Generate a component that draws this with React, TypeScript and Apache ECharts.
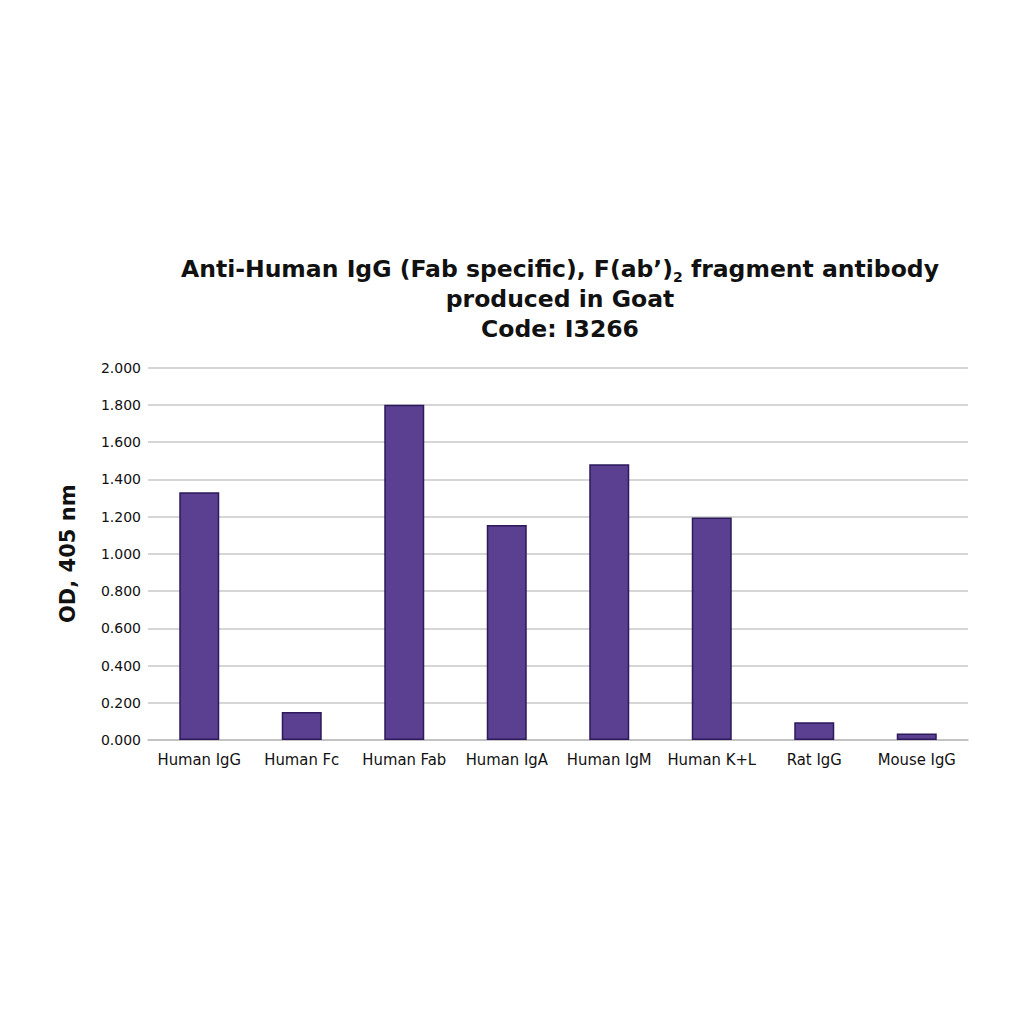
import React, { useEffect, useRef } from "react";
import * as echarts from "echarts";

const categories = ["Human IgG", "Human Fc", "Human Fab", "Human IgA", "Human IgM", "Human K+L", "Rat IgG", "Mouse IgG"];
const odValues = [1.33, 0.15, 1.8, 1.155, 1.48, 1.195, 0.095, 0.035];
const yTicks = { min: 0, max: 2, interval: 0.2 };
const titleLines = ["Anti-Human IgG (Fab specific), F(ab’){sub|2} fragment antibody", "produced in Goat", "Code: I3266"];
const yAxisTitle = "OD, 405 nm";

export default function App() {
  const ref = useRef<HTMLDivElement>(null);
  useEffect(() => {
    if (!ref.current) return;
    const chart = echarts.init(ref.current, null, { renderer: "svg" });
    chart.setOption({
      animation: false,
      backgroundColor: "#ffffff",
      graphic: [
        {
          type: "text",
          x: 560,
          y: 254,
          style: {
            text: titleLines.join("\n"),
            align: "center",
            verticalAlign: "top",
            font: "bold 23.5px 'DejaVu Sans'",
            fill: "#111",
            lineHeight: 30,
            rich: {
              sub: { fontSize: 14, fontWeight: "bold", fontFamily: "DejaVu Sans", verticalAlign: "bottom", padding: [12, 0, 0, 0], lineHeight: 30 },
            },
          },
        },
      ],
      grid: { left: 148, right: 56, top: 367.5, bottom: 284, containLabel: false },
      xAxis: {
        type: "category",
        data: categories,
        axisLine: { show: true, lineStyle: { color: "#bdbdbd", width: 1.5 } },
        axisTick: { show: false },
        axisLabel: { color: "#111", fontSize: 16.5, fontFamily: "DejaVu Sans Condensed", margin: 11, interval: 0 },
      },
      yAxis: {
        type: "value",
        min: yTicks.min,
        max: yTicks.max,
        interval: yTicks.interval,
        name: yAxisTitle,
        nameLocation: "middle",
        nameGap: 70,
        nameTextStyle: { fontSize: 21, fontWeight: "bold", fontFamily: "DejaVu Sans", color: "#111" },
        axisLine: { show: false },
        axisTick: { show: false },
        axisLabel: { color: "#111", fontSize: 14, fontFamily: "DejaVu Sans", margin: 7, formatter: (v: number) => v.toFixed(3) },
        splitLine: { lineStyle: { color: "#c8c8c8", width: 1.5 } },
      },
      series: [
        {
          type: "bar",
          data: odValues,
          barWidth: 40,
          itemStyle: { color: "#5b3f91", borderColor: "#2c1a5a", borderWidth: 1.5 },
        },
      ],
    });
    return () => chart.dispose();
  }, []);
  return <div ref={ref} style={{ position: "fixed", left: 0, top: 0, width: 1024, height: 1024 }} />;
}
